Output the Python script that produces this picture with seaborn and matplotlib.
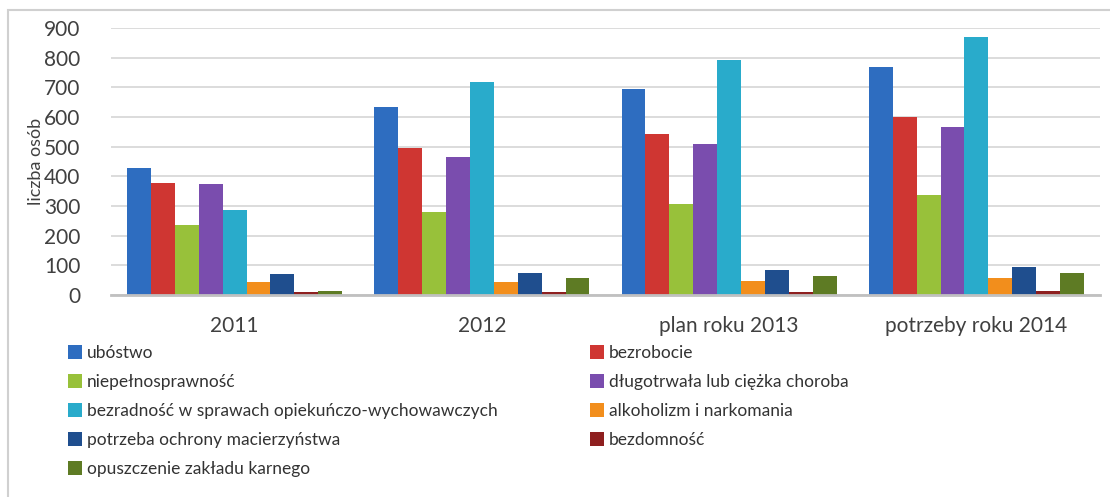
import matplotlib
matplotlib.use("Agg")
import matplotlib.pyplot as plt
import seaborn as sns
import pandas as pd
from matplotlib.patches import Rectangle, Patch

categories = ["2011", "2012", "plan roku 2013", "potrzeby roku 2014"]
series_names = [
    "ubóstwo",
    "bezrobocie",
    "niepełnosprawność",
    "długotrwała lub ciężka choroba",
    "bezradność w sprawach opiekuńczo-wychowawczych",
    "alkoholizm i narkomania",
    "potrzeba ochrony macierzyństwa",
    "bezdomność",
    "opuszczenie zakładu karnego",
]
ubostwo = [429, 634, 696, 767]
bezrobocie = [377, 494, 543, 599]
niepelnosprawnosc = [237, 279, 307, 337]
choroba = [373, 464, 509, 565]
bezradnosc = [286, 719, 792, 871]
alkoholizm = [45, 43, 48, 56]
macierzynstwo = [70, 75, 83, 93]
bezdomnosc = [9, 11, 11, 14]
zaklad_karny = [12, 58, 65, 73]
series_values = [ubostwo, bezrobocie, niepelnosprawnosc, choroba, bezradnosc,
                 alkoholizm, macierzynstwo, bezdomnosc, zaklad_karny]
yticks = [0, 100, 200, 300, 400, 500, 600, 700, 800, 900]
ylabel = "liczba osób"

colors = ["#2E6DC0", "#CF3632", "#98C13A", "#7A4DAE", "#29ABCB",
          "#F28E1C", "#1F4E8E", "#8E1F1F", "#5E7B24"]

rows = []
for name, vals in zip(series_names, series_values):
    for c, v in zip(categories, vals):
        rows.append({"kategoria": c, "seria": name, "wartosc": v})
df = pd.DataFrame(rows)

sns.set_style("white")
plt.rcParams["font.family"] = ["Lato", "DejaVu Sans"]

fig = plt.figure(figsize=(11.1, 4.97), dpi=100)
ax = fig.add_axes([0.1, 0.4064, 0.891, 0.5373])

sns.barplot(data=df, x="kategoria", y="wartosc", hue="seria",
            order=categories, hue_order=series_names,
            palette=colors, width=0.87, ax=ax, saturation=1,
            edgecolor="none", legend=False)

ax.set_ylim(0, 900)
ax.set_yticks(yticks)
ax.set_xlim(-0.5, 3.5)
ax.yaxis.grid(True, color="#D9D9D9", linewidth=1.3)
ax.set_axisbelow(True)
for s in ["top", "right", "left"]:
    ax.spines[s].set_visible(False)
ax.spines["bottom"].set_color("#C0C0C0")
ax.spines["bottom"].set_linewidth(2)
ax.tick_params(axis="both", length=0, labelsize=15, colors="#404040")
ax.tick_params(axis="y", pad=22)
ax.tick_params(axis="x", pad=15)
ax.set_xlabel("")
ax.set_ylabel(ylabel, fontsize=13, color="#404040", labelpad=0)

handles = [Patch(facecolor=c, edgecolor="none") for c in colors]
leg_kw = dict(loc="upper left", ncol=1, frameon=False, fontsize=12.5,
              handlelength=0.8, handleheight=0.8, handletextpad=0.3,
              labelspacing=0.75, labelcolor="#333333",
              borderaxespad=0, borderpad=0)
left_idx = [0, 2, 4, 6, 8]
right_idx = [1, 3, 5, 7]
fig.legend([handles[i] for i in left_idx], [series_names[i] for i in left_idx],
           bbox_to_anchor=(68 / 1110, (497 - 345) / 497), **leg_kw)
fig.legend([handles[i] for i in right_idx], [series_names[i] for i in right_idx],
           bbox_to_anchor=(590 / 1110, (497 - 345) / 497), **leg_kw)

frame = Rectangle((8 / 1110, -0.05), 1.2, (497 - 10) / 497 + 0.05,
                  transform=fig.transFigure, fill=False,
                  edgecolor="#D0D0D0", linewidth=1.5)
fig.patches.append(frame)

fig.savefig("out.png", dpi=100)
